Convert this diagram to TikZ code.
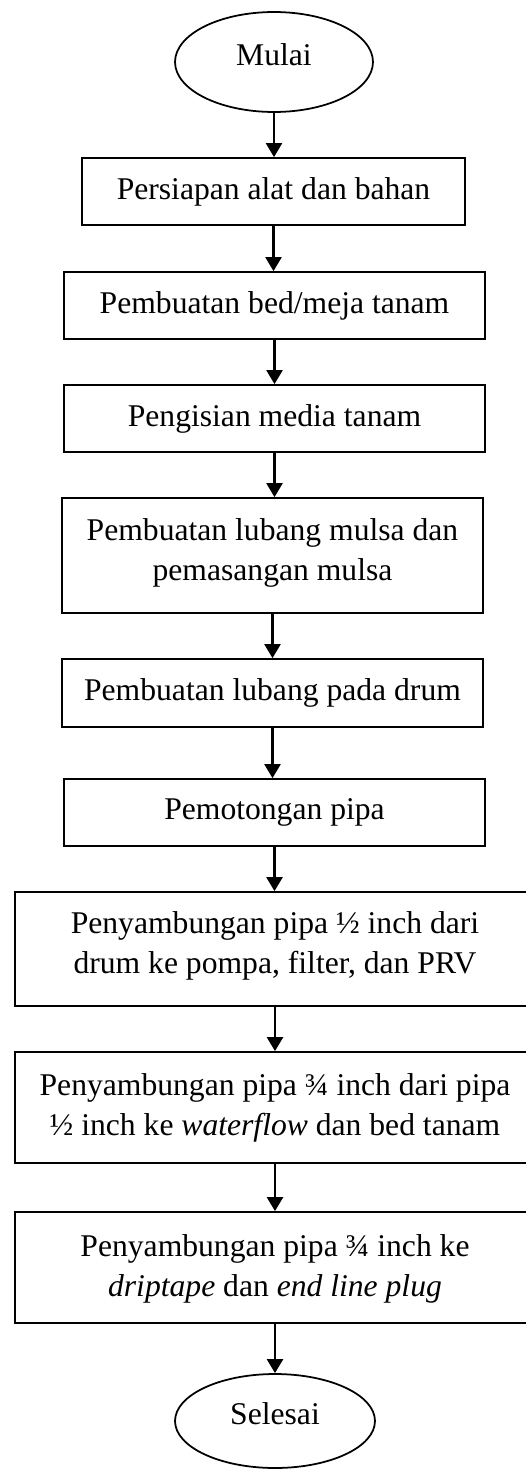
\documentclass[tikz,border=0pt]{standalone}
\usepackage{fontspec}
\setmainfont{Liberation Serif}
\usepackage{tikz}
\usetikzlibrary{arrows.meta}
\usetikzlibrary{shapes.geometric,positioning}
\tikzset{
    stepbox/.style={
        draw,
        rectangle,
        line width=1pt,
        minimum height=1.34cm,
        align=center
    },
    % ellipse for start and end
    endbox/.style={
        draw,
        ellipse,
        line width=1pt,
        text depth=0.3cm
    },
    steptext/.style={
        anchor=north,
        align=center,
        inner sep=0pt
    },
    flowarrow/.style={
        line width=1.3pt,
        black,
        -{Triangle[length=0.28cm, width=0.32cm]}
    }
}

\begin{document}
\begin{tikzpicture}[x=0.02cm,y=-0.02cm,font=\fontsize{18}{22.8}\selectfont]
    \useasboundingbox (0,0) rectangle (525,1470);
    \node[endbox,minimum width=3.96cm,minimum height=2cm] (mulai) at (274,62) {Mulai};
    \node[stepbox,minimum width=7.66cm] (s1) at (273.5,191.5) {Persiapan alat dan bahan};
    \node[stepbox,minimum width=8.42cm] (s2) at (274.5,305.5) {Pembuatan bed/meja tanam};
    \node[stepbox,minimum width=8.42cm] (s3) at (274.5,418.5) {Pengisian media tanam};
    \node[stepbox,minimum width=8.42cm,minimum height=2.3cm] (s4) at (272.5,555.5) {};
    \node[steptext] (t4) at (272.5,518) {Pembuatan lubang mulsa dan\\pemasangan mulsa};
    \node[stepbox,minimum width=8.42cm,minimum height=1.36cm] (s5) at (272.5,693) {Pembuatan lubang pada drum};
    \node[stepbox,minimum width=8.42cm] (s6) at (274.5,812.5) {Pemotongan pipa};
    \node[stepbox,minimum width=10.4cm,minimum height=2.28cm] (s7) at (275,949) {};
    \node[steptext] (t7) at (275,911) {Penyambungan pipa ½ inch dari\\drum ke pompa, filter, dan PRV};
    \node[stepbox,minimum width=10.4cm,minimum height=2.22cm] (s8) at (275,1107.5) {};
    \node[steptext] (t8) at (275,1073) {Penyambungan pipa ¾ inch dari pipa\\½ inch ke \textit{waterflow} dan bed tanam};
    \node[stepbox,minimum width=10.4cm,minimum height=2.22cm] (s9) at (275,1267.5) {};
    \node[steptext] (t9) at (275,1234) {Penyambungan pipa ¾ inch ke\\\textit{driptape} dan \textit{end line plug}};
    \node[endbox,minimum width=4cm,minimum height=1.88cm] (selesai) at (275,1421) {Selesai};

    \foreach \a/\b in {mulai/s1,s1/s2,s2/s3,s3/s4,s4/s5,s5/s6,s6/s7,s7/s8,s8/s9,s9/selesai}
        \draw[flowarrow] (\a.south) -- (\a.south |- \b.north);
\end{tikzpicture}
\end{document}
